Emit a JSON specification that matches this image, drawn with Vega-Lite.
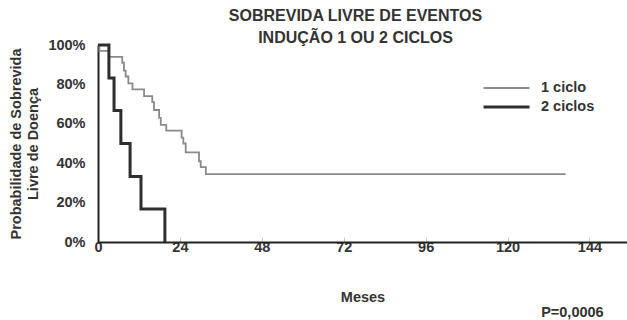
{
  "$schema": "https://vega.github.io/schema/vega-lite/v6.json",
  "width": 529,
  "height": 197,
  "autosize": {"type": "none"},
  "padding": {"left": 98, "top": 45, "right": 0, "bottom": 78},
  "background": "white",
  "title": {
    "text": ["SOBREVIDA LIVRE DE EVENTOS", "INDUÇÃO 1 OU 2 CICLOS"],
    "font": "Liberation Sans",
    "fontSize": 16,
    "fontWeight": "bold",
    "color": "#333333",
    "anchor": "middle",
    "dx": -7,
    "offset": -9,
    "lineHeight": 22
  },
  "datasets": {
    "km": [
      {"grupo": "1 ciclo", "meses": 0, "sobrevida": 1.0},
      {"grupo": "1 ciclo", "meses": 0.4, "sobrevida": 0.97},
      {"grupo": "1 ciclo", "meses": 3.2, "sobrevida": 0.94},
      {"grupo": "1 ciclo", "meses": 7.1, "sobrevida": 0.91},
      {"grupo": "1 ciclo", "meses": 7.6, "sobrevida": 0.87},
      {"grupo": "1 ciclo", "meses": 8.1, "sobrevida": 0.84},
      {"grupo": "1 ciclo", "meses": 8.9, "sobrevida": 0.805},
      {"grupo": "1 ciclo", "meses": 10.1, "sobrevida": 0.775},
      {"grupo": "1 ciclo", "meses": 13.5, "sobrevida": 0.74},
      {"grupo": "1 ciclo", "meses": 15.9, "sobrevida": 0.71},
      {"grupo": "1 ciclo", "meses": 16.4, "sobrevida": 0.67},
      {"grupo": "1 ciclo", "meses": 17.9, "sobrevida": 0.63},
      {"grupo": "1 ciclo", "meses": 18.4, "sobrevida": 0.595},
      {"grupo": "1 ciclo", "meses": 20.0, "sobrevida": 0.565},
      {"grupo": "1 ciclo", "meses": 24.5, "sobrevida": 0.53},
      {"grupo": "1 ciclo", "meses": 25.0, "sobrevida": 0.5},
      {"grupo": "1 ciclo", "meses": 25.7, "sobrevida": 0.455},
      {"grupo": "1 ciclo", "meses": 29.6, "sobrevida": 0.41},
      {"grupo": "1 ciclo", "meses": 30.1, "sobrevida": 0.38},
      {"grupo": "1 ciclo", "meses": 31.6, "sobrevida": 0.345},
      {"grupo": "1 ciclo", "meses": 137.0, "sobrevida": 0.345},
      {"grupo": "2 ciclos", "meses": 0, "sobrevida": 1.0},
      {"grupo": "2 ciclos", "meses": 3.2, "sobrevida": 0.833},
      {"grupo": "2 ciclos", "meses": 4.7, "sobrevida": 0.667},
      {"grupo": "2 ciclos", "meses": 6.7, "sobrevida": 0.5},
      {"grupo": "2 ciclos", "meses": 9.4, "sobrevida": 0.333},
      {"grupo": "2 ciclos", "meses": 12.6, "sobrevida": 0.167},
      {"grupo": "2 ciclos", "meses": 19.6, "sobrevida": 0.0}
    ],
    "nota": [{"texto": "P=0,0006"}]
  },
  "config": {
    "view": {"stroke": null},
    "axis": {
      "labelFont": "Liberation Sans",
      "labelFontWeight": "bold",
      "labelFontSize": 14.5,
      "labelColor": "#333333",
      "labelOverlap": false,
      "labelFlush": false,
      "labelSeparation": 0,
      "titleFont": "Liberation Sans",
      "titleFontWeight": "bold",
      "titleFontSize": 14.5,
      "titleColor": "#333333",
      "domainColor": "#222222",
      "domainWidth": 2,
      "tickColor": "#c8c8c8",
      "grid": false
    }
  },
  "resolve": {"axis": {"x": "independent", "y": "independent"}},
  "layer": [
    {
      "data": {"name": "km"},
      "mark": {"type": "line", "interpolate": "step-after", "clip": false},
      "encoding": {
        "x": {
          "field": "meses",
          "type": "quantitative",
          "scale": {"domain": [0, 155], "nice": false, "zero": false},
          "axis": {
            "values": [0, 24, 48, 72, 96, 120, 144],
            "title": "Meses",
            "titlePadding": 37,
            "labelPadding": 3,
            "labelOverlap": false,
            "labelFlush": false,
            "tickSize": -5,
            "ticks": true
          }
        },
        "y": {
          "field": "sobrevida",
          "type": "quantitative",
          "scale": {"domain": [0, 1], "nice": false},
          "axis": {
            "values": [0, 0.2, 0.4, 0.6, 0.8, 1.0],
            "format": ".0%",
            "title": ["Probabilidade de Sobrevida", "Livre de Doença"],
            "titlePadding": 7,
            "labelPadding": 13,
            "labelOverlap": false,
            "labelFlush": false,
            "labelBound": false,
            "tickSize": 0,
            "titleLineHeight": 17
          }
        },
        "color": {
          "field": "grupo",
          "type": "nominal",
          "scale": {"domain": ["1 ciclo", "2 ciclos"], "range": ["#8a8a8a", "#2e2e2e"]},
          "legend": {
            "title": null,
            "orient": "none",
            "legendX": 384,
            "legendY": 35,
            "symbolType": "stroke",
            "symbolSize": 2116,
            "clipHeight": 16,
            "labelFont": "Liberation Sans",
            "labelFontWeight": "bold",
            "labelFontSize": 14.5,
            "labelColor": "#333333",
            "rowPadding": 3,
            "labelOffset": 10
          }
        },
        "strokeWidth": {
          "field": "grupo",
          "type": "nominal",
          "scale": {"domain": ["1 ciclo", "2 ciclos"], "range": [1.8, 3]},
          "legend": {
            "title": null,
            "orient": "none",
            "legendX": 384,
            "legendY": 35,
            "symbolType": "stroke",
            "symbolSize": 2116,
            "clipHeight": 16,
            "labelFont": "Liberation Sans",
            "labelFontWeight": "bold",
            "labelFontSize": 14.5,
            "labelColor": "#333333",
            "rowPadding": 3,
            "labelOffset": 10
          }
        }
      }
    },
    {
      "data": {"name": "nota"},
      "mark": {
        "type": "text",
        "font": "Liberation Sans",
        "fontWeight": "bold",
        "fontSize": 14.5,
        "color": "#333333",
        "align": "center",
        "clip": false
      },
      "encoding": {
        "text": {"field": "texto"},
        "x": {"datum": 139, "axis": null},
        "y": {"datum": -0.36, "axis": null}
      }
    }
  ]
}
